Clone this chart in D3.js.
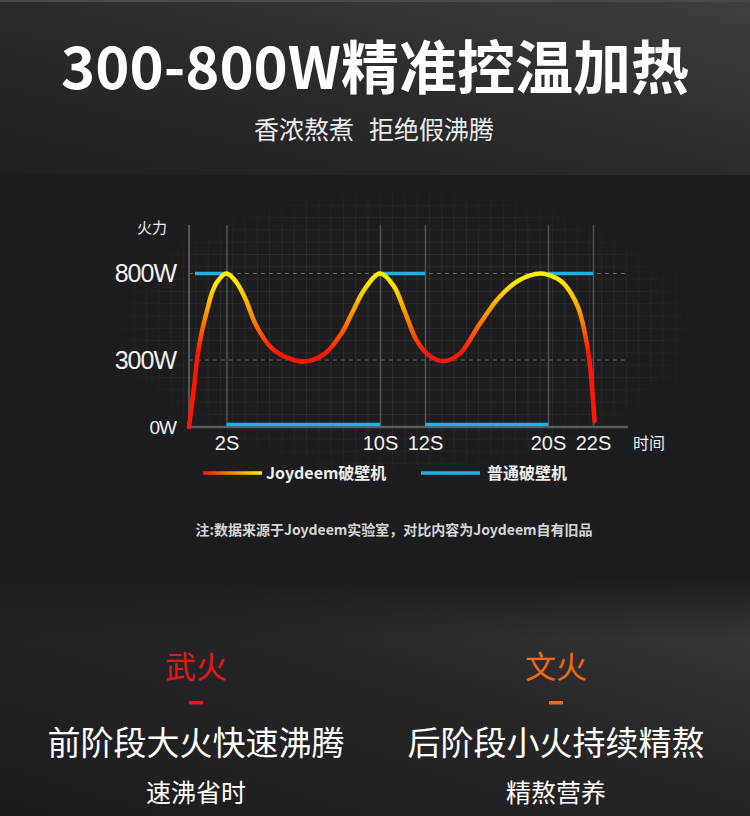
<!DOCTYPE html>
<html>
<head>
<meta charset="utf-8">
<script src="https://cdn.jsdelivr.net/npm/d3@7"></script>
<style>
html, body { margin: 0; padding: 0; background: #1d1d1f; }
svg { display: block; }
</style>
</head>
<body>
<div id="chart"></div>
<script>
let WIDTH = 750;
let HEIGHT = 816;

// ticks of the two axes
var timeTicks = [2, 10, 12, 20, 22];        // seconds
var powerTicks = [0, 300, 800];             // watts

// Joydeem curve
var joyTime  = [0, 0.27, 0.45, 0.7, 0.95, 1.2, 1.5, 2, 2.5, 3.0, 3.5, 4.3, 5.2, 6.1, 7.1, 8.0, 8.6, 9.2, 10,
                10.6, 11.1, 11.6, 12.2, 13.2, 14.3, 15.5, 16.8, 18.1, 19.5, 20.36, 20.7, 21.05, 21.35, 21.55,
                21.71, 21.83, 21.93, 22.0, 22.07];
var joyPower = [0, 180, 320, 470, 580, 680, 752, 800, 752, 650, 510, 375, 312, 293, 335, 455, 585, 710, 800,
                730, 580, 420, 330, 295, 340, 500, 660, 760, 800, 774, 742, 680, 600, 510,
                405, 310, 210, 121, 27];

// ordinary blender: on / off segments
var blueStart = [0.32, 2, 10, 12, 20];
var blueEnd   = [2, 10, 12, 20, 22];
var bluePower = [800, 0, 800, 0, 800];

var legendLabels = ["Joydeem破壁机", "普通破壁机"];

var CJK = "'Noto Sans CJK SC', 'Noto Sans', sans-serif";
var NUM = "'Liberation Sans', Arial, sans-serif";

drawChart();

function drawChart() {
	var svg = d3.select("#chart").append("svg")
		.attr("width", WIDTH)
		.attr("height", HEIGHT);

	var defs = svg.append("defs");

	// background panels
	var topGrad = defs.append("linearGradient").attr("id", "top-bg")
		.attr("x1", 0).attr("y1", 1).attr("x2", 1).attr("y2", 0);
	topGrad.append("stop").attr("offset", "0%").attr("stop-color", "#202022");
	topGrad.append("stop").attr("offset", "50%").attr("stop-color", "#2b2b2e");
	topGrad.append("stop").attr("offset", "100%").attr("stop-color", "#3e3f42");

	var botGrad = defs.append("linearGradient").attr("id", "bot-bg")
		.attr("x1", 0).attr("y1", 1).attr("x2", 1).attr("y2", 0);
	botGrad.append("stop").attr("offset", "0%").attr("stop-color", "#1c1c1e");
	botGrad.append("stop").attr("offset", "55%").attr("stop-color", "#262628");
	botGrad.append("stop").attr("offset", "100%").attr("stop-color", "#3a3b3e");

	var fade = defs.append("linearGradient").attr("id", "bot-fade")
		.attr("x1", 0).attr("y1", 0).attr("x2", 0).attr("y2", 1);
	fade.append("stop").attr("offset", "0%").attr("stop-color", "#1d1d1f").attr("stop-opacity", 1);
	fade.append("stop").attr("offset", "100%").attr("stop-color", "#1d1d1f").attr("stop-opacity", 0);

	svg.append("rect").attr("width", WIDTH).attr("height", HEIGHT).attr("fill", "#1d1d1f");
	svg.append("rect").attr("width", WIDTH).attr("height", 175).attr("fill", "url(#top-bg)");
	svg.append("rect").attr("y", 0).attr("width", WIDTH).attr("height", 2).attr("fill", "#4a4a4c");
	svg.append("rect").attr("y", 580).attr("width", WIDTH).attr("height", 236).attr("fill", "url(#bot-bg)");
	svg.append("rect").attr("y", 580).attr("width", WIDTH).attr("height", 60).attr("fill", "url(#bot-fade)");

	// headline
	svg.append("text")
		.attr("x", 375).attr("y", 89)
		.attr("text-anchor", "middle")
		.style("font-family", CJK).style("font-weight", 700).style("font-size", "58px")
		.attr("fill", "#ffffff")
		.text("300-800W精准控温加热");
	// subtitle: two phrases with a wide gap between them
	var subText = ["香浓熬煮", "拒绝假沸腾"];
	var subX = [354, 369];
	svg.selectAll(".sub").data(subText).enter().append("text")
		.attr("class", "sub")
		.attr("x", (d, i) => subX[i]).attr("y", 139)
		.attr("text-anchor", (d, i) => i === 0 ? "end" : "start")
		.style("font-family", CJK).style("font-size", "25px")
		.attr("fill", "#ececec")
		.text(d => d);

	// scales (the picture's axes are not evenly spaced)
	var xScale = d3.scaleLinear().domain([0, 2, 10, 12, 20, 22]).range([189, 226.5, 380, 425, 548, 593]);
	var yScale = d3.scaleLinear().domain([0, 300, 800]).range([427, 360, 273.5]);
	var plotTop = 225;
	var axisEnd = 628;

	// faint background grid
	var gridFade = defs.append("radialGradient").attr("id", "grid-fade")
		.attr("cx", "50%").attr("cy", "50%").attr("r", "55%");
	gridFade.append("stop").attr("offset", "60%").attr("stop-color", "#fff");
	gridFade.append("stop").attr("offset", "100%").attr("stop-color", "#000");
	var mask = defs.append("mask").attr("id", "grid-mask");
	mask.append("rect").attr("x", 120).attr("y", 190).attr("width", 570).attr("height", 280)
		.attr("fill", "url(#grid-fade)");

	var grid = svg.append("g").attr("mask", "url(#grid-mask)")
		.attr("stroke", "#ffffff").attr("stroke-opacity", 0.07).attr("stroke-width", 1);
	grid.selectAll(".gv").data(d3.range(122, 690, 12.3)).enter().append("line")
		.attr("x1", d => d).attr("x2", d => d).attr("y1", 190).attr("y2", 470);
	grid.selectAll(".gh").data(d3.range(193, 470, 12.3)).enter().append("line")
		.attr("x1", 120).attr("x2", 690).attr("y1", d => d).attr("y2", d => d);

	// dashed reference lines
	svg.selectAll(".ref").data([300, 800]).enter().append("line")
		.attr("class", "ref")
		.attr("x1", xScale(0)).attr("x2", axisEnd)
		.attr("y1", d => yScale(d)).attr("y2", d => yScale(d))
		.attr("stroke", "#6a6a6a").attr("stroke-width", 1)
		.attr("stroke-dasharray", "4,4");

	// x axis with vertical tick lines
	var xAxis = d3.axisBottom(xScale)
		.tickValues(timeTicks)
		.tickSize(-(yScale(0) - plotTop))
		.tickPadding(0)
		.tickFormat(d => d + "S");
	var gx = svg.append("g").attr("transform", "translate(0," + yScale(0) + ")").call(xAxis);
	gx.select(".domain").remove();
	gx.selectAll(".tick line").attr("stroke", "#555").attr("stroke-width", 1.5);
	gx.selectAll(".tick text")
		.attr("y", 23).attr("dy", 0)
		.attr("fill", "#f2f2f2")
		.style("font-family", NUM).style("font-size", "20px");

	svg.append("line")
		.attr("x1", xScale(0)).attr("x2", axisEnd)
		.attr("y1", yScale(0)).attr("y2", yScale(0))
		.attr("stroke", "#5a5a5a").attr("stroke-width", 2.5);
	svg.append("line")
		.attr("x1", xScale(0)).attr("x2", xScale(0))
		.attr("y1", plotTop).attr("y2", yScale(0))
		.attr("stroke", "#555").attr("stroke-width", 2);

	// y axis labels
	var yAxis = d3.axisLeft(yScale)
		.tickValues(powerTicks)
		.tickSize(0)
		.tickPadding(13)
		.tickFormat(d => d + "W");
	var gy = svg.append("g").attr("transform", "translate(" + xScale(0) + ",0)").call(yAxis);
	gy.select(".domain").remove();
	gy.selectAll(".tick text")
		.attr("fill", "#f2f2f2")
		.style("font-family", NUM)
		.style("font-size", d => d === 0 ? "19px" : "25px")
		.style("letter-spacing", "-1px");

	svg.append("text").attr("x", 152).attr("y", 233).attr("text-anchor", "middle")
		.style("font-family", CJK).style("font-size", "15px").attr("fill", "#eeeeee")
		.text("火力");
	svg.append("text").attr("x", 649).attr("y", 449).attr("text-anchor", "middle")
		.style("font-family", CJK).style("font-size", "16px").attr("fill", "#eeeeee")
		.text("时间");

	// ordinary blender (blue)
	var blue = blueStart.map((s, i) => ({ s: s, e: blueEnd[i], p: bluePower[i] }));
	svg.selectAll(".blue").data(blue).enter().append("line")
		.attr("class", "blue")
		.attr("x1", d => xScale(d.s)).attr("x2", d => xScale(d.e))
		.attr("y1", d => yScale(d.p) - (d.p === 0 ? 2.5 : 0))
		.attr("y2", d => yScale(d.p) - (d.p === 0 ? 2.5 : 0))
		.attr("stroke", "#1cb2e6").attr("stroke-width", 3.5);

	// Joydeem curve with heat gradient
	var heat = defs.append("linearGradient").attr("id", "heat")
		.attr("gradientUnits", "userSpaceOnUse")
		.attr("x1", 0).attr("x2", 0)
		.attr("y1", yScale(800)).attr("y2", yScale(340));
	heat.append("stop").attr("offset", "0%").attr("stop-color", "#fff200");
	heat.append("stop").attr("offset", "15%").attr("stop-color", "#ffe000");
	heat.append("stop").attr("offset", "55%").attr("stop-color", "#ff8a00");
	heat.append("stop").attr("offset", "100%").attr("stop-color", "#ff1608");

	var joy = joyTime.map((t, i) => ({ t: t, p: joyPower[i] }));
	var line = d3.line()
		.x(d => xScale(d.t))
		.y(d => yScale(d.p))
		.curve(d3.curveCatmullRom.alpha(0.5));
	svg.append("path")
		.datum(joy)
		.attr("d", line)
		.attr("fill", "none")
		.attr("stroke", "url(#heat)")
		.attr("stroke-width", 4.5)
		.attr("stroke-linecap", "round");

	// legend
	var legGrad = defs.append("linearGradient").attr("id", "leg-heat")
		.attr("gradientUnits", "userSpaceOnUse")
		.attr("x1", 0).attr("x2", 59).attr("y1", 0).attr("y2", 0);
	legGrad.append("stop").attr("offset", "0%").attr("stop-color", "#ff1608");
	legGrad.append("stop").attr("offset", "50%").attr("stop-color", "#ff8a00");
	legGrad.append("stop").attr("offset", "100%").attr("stop-color", "#fff200");

	var legX = [203, 421];
	var legend = svg.selectAll(".legend").data(legendLabels).enter().append("g")
		.attr("class", "legend")
		.attr("transform", (d, i) => "translate(" + legX[i] + ",473)");
	legend.append("line")
		.attr("x1", 0).attr("x2", 59).attr("y1", 0).attr("y2", 0)
		.attr("stroke", (d, i) => i === 0 ? "url(#leg-heat)" : "#1cb2e6")
		.attr("stroke-width", 3.5);
	legend.append("text")
		.attr("x", (d, i) => i === 0 ? 63 : 66).attr("y", 6)
		.style("font-family", CJK).style("font-weight", 700).style("font-size", "16px")
		.attr("fill", "#eeeeee")
		.text(d => d);

	svg.append("text")
		.attr("x", 394).attr("y", 535).attr("text-anchor", "middle")
		.style("font-family", CJK).style("font-weight", 700).style("font-size", "14px")
		.attr("fill", "#d6d6d6")
		.text("注:数据来源于Joydeem实验室，对比内容为Joydeem自有旧品");

	// bottom: two heat stages
	var stageTitle = ["武火", "文火"];
	var stageColor = ["#e8151a", "#f06a14"];
	var stageLine = ["前阶段大火快速沸腾", "后阶段小火持续精熬"];
	var stageNote = ["速沸省时", "精熬营养"];
	var stageX = [196, 556];

	var stage = svg.selectAll(".stage").data(stageTitle).enter().append("g")
		.attr("class", "stage")
		.attr("transform", (d, i) => "translate(" + stageX[i] + ",0)");
	stage.append("text").attr("y", 678).attr("text-anchor", "middle")
		.style("font-family", CJK).style("font-size", "31px")
		.attr("fill", (d, i) => stageColor[i])
		.text(d => d);
	stage.append("rect").attr("x", -7).attr("y", 701).attr("width", 14).attr("height", 3.5)
		.attr("fill", (d, i) => stageColor[i]);
	stage.append("text").attr("y", 755).attr("text-anchor", "middle")
		.style("font-family", CJK).style("font-size", "33px")
		.attr("fill", "#ffffff")
		.text((d, i) => stageLine[i]);
	stage.append("text").attr("y", 802).attr("text-anchor", "middle")
		.style("font-family", CJK).style("font-size", "25px")
		.attr("fill", "#ffffff")
		.text((d, i) => stageNote[i]);
}
</script>
</body>
</html>
